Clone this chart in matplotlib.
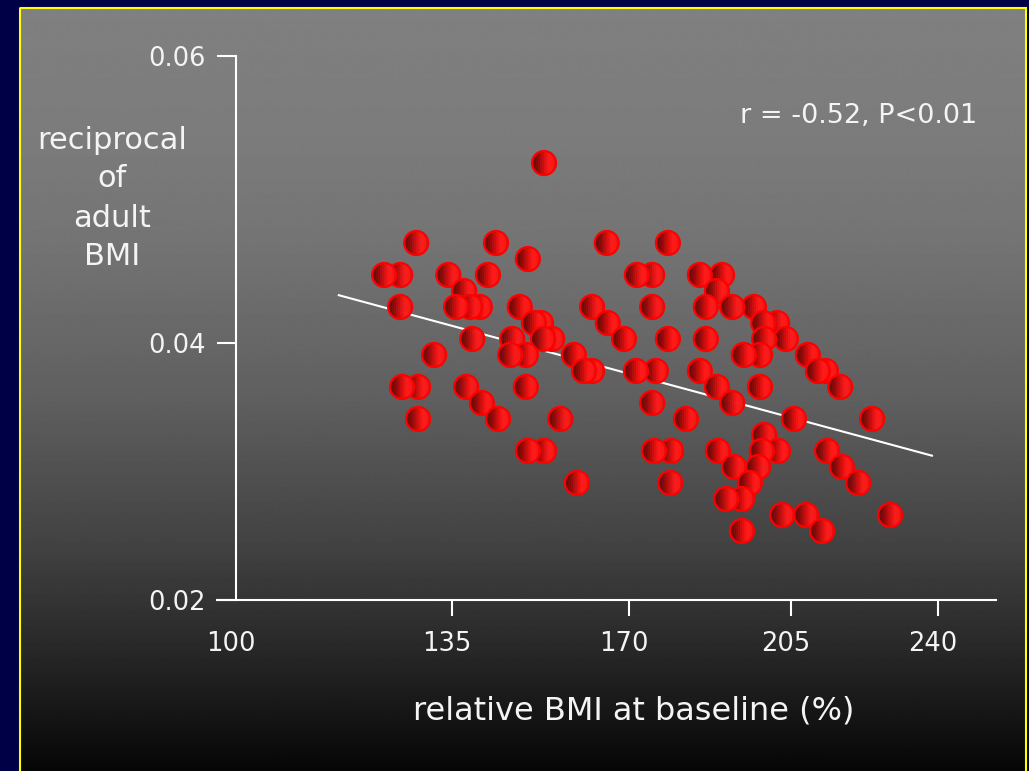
import numpy as np
import matplotlib
matplotlib.use("Agg")
import matplotlib.pyplot as plt
from matplotlib.path import Path
from matplotlib.patches import Rectangle
from matplotlib import transforms

# ---------------- data ----------------
x_ticks = [100, 135, 170, 205, 240]
x_ticklabels = ["100", "135", "170", "205", "240"]
y_ticks = [0.02, 0.04, 0.06]
y_ticklabels = ["0.02", "0.04", "0.06"]

relative_bmi = [
    153.2,
    129.2, 143.7, 165.6, 178.4,
    150.0,
    124.0, 126.6, 134.4, 142.1, 171.7, 175.0, 185.3, 190.1,
    137.4, 189.0,
    126.6, 135.8, 138.6, 140.5, 148.4, 162.7, 175.0, 186.6, 192.3, 197.0,
    151.2, 152.6, 165.8, 199.0, 202.0,
    139.0, 146.9, 153.0, 154.8, 169.0, 178.4, 186.6, 199.2, 203.9,
    132.1, 146.5, 149.6, 159.1, 194.8, 198.3, 209.0,
    161.1, 162.7, 171.5, 175.8, 185.3, 211.4, 213.3,
    126.9, 129.5, 137.8, 149.6, 189.0, 198.3, 216.7,
    140.9, 175.0, 192.3,
    129.5, 144.1, 156.4, 182.3, 205.7, 224.3,
    199.2,
    150.0, 153.2, 175.4, 179.1, 189.2, 198.7, 202.2, 213.6,
    192.7, 197.9, 217.1,
    159.7, 178.9, 196.1, 221.0,
    191.0, 194.4,
    203.1, 208.6, 228.6,
    194.4, 212.4,
]
recip_bmi = [
    0.05254,
    0.04697, 0.04697, 0.04697, 0.04697,
    0.04585,
    0.04474, 0.04474, 0.04474, 0.04474, 0.04474, 0.04474, 0.04474, 0.04474,
    0.04362, 0.04362,
    0.04251, 0.04251, 0.04251, 0.04251, 0.04251, 0.04251, 0.04251, 0.04251, 0.04251, 0.04251,
    0.04139, 0.04139, 0.04139, 0.04139, 0.04139,
    0.04028, 0.04028, 0.04028, 0.04028, 0.04028, 0.04028, 0.04028, 0.04028, 0.04028,
    0.03907, 0.03907, 0.03907, 0.03907, 0.03907, 0.03907, 0.03907,
    0.03782, 0.03782, 0.03782, 0.03782, 0.03782, 0.03782, 0.03782,
    0.03658, 0.03658, 0.03658, 0.03658, 0.03658, 0.03658, 0.03658,
    0.03533, 0.03533, 0.03533,
    0.03409, 0.03409, 0.03409, 0.03409, 0.03409, 0.03409,
    0.03284,
    0.03160, 0.03160, 0.03160, 0.03160, 0.03160, 0.03160, 0.03160, 0.03160,
    0.03035, 0.03035, 0.03035,
    0.02911, 0.02911, 0.02911, 0.02911,
    0.02786, 0.02786,
    0.02661, 0.02661, 0.02661,
    0.02537, 0.02537,
]

fit_x = [116.5, 238.8]
fit_y = [0.04335, 0.03121]

stat_text = "r = -0.52, P<0.01"
x_title = "relative BMI at baseline (%)"
y_title_lines = ["reciprocal", "of", "adult", "BMI"]

# ---------------- layout / style ----------------
W, H, DPI = 1029, 771, 100
plt.rcParams["font.family"] = ["DejaVu Sans"]
TXT = "#f4f4f4"

fig = plt.figure(figsize=(W / DPI, H / DPI), dpi=DPI, facecolor="#000046")

# background panel with vertical gradient and yellow frame
bg = fig.add_axes([0, 0, 1, 1], zorder=0)
bg.set_xlim(0, W)
bg.set_ylim(H, 0)
bg.axis("off")
rows = np.arange(7, H + 1)
lev = np.interp(rows, [7, 150, 250, 400, 550, 650, 771],
                [128, 123, 115, 95, 65, 40, 6]) / 255.0
grad = np.repeat(lev[:, None], 2, axis=1)
bg.imshow(grad, cmap="gray", vmin=0, vmax=1, extent=[19, 1026, H, 7],
          aspect="auto", interpolation="bilinear")
bg.add_patch(Rectangle((19.5, 7.5), 1006, 800, fill=False,
                       edgecolor="#ffff00", lw=1.5))

# axes whose (nonuniform, hand-drawn) scales map values to figure pixels
XV = [0, 100, 135, 170, 205, 240, 400]
XP = [-381, 236, 452, 629, 791, 938, 1610]
YV = [0.0, 0.02, 0.04, 0.06, 0.1]
YP = [857, 600, 343, 56, -518]


def fx(v):
    return np.interp(np.asarray(v, float), XV, XP)


def fx_inv(p):
    return np.interp(np.asarray(p, float), XP, XV)


def fy(v):
    return H - np.interp(np.asarray(v, float), YV, YP)


def fy_inv(q):
    return np.interp(H - np.asarray(q, float), YP[::-1], YV[::-1])


ax = fig.add_axes([0, 0, 1, 1], zorder=1)
ax.patch.set_visible(False)
ax.set_xscale("function", functions=(fx, fx_inv))
ax.set_yscale("function", functions=(fy, fy_inv))
ax.set_xlim(float(fx_inv(0)), float(fx_inv(W)))
ax.set_ylim(float(fy_inv(0)), float(fy_inv(H)))

for s in ("top", "right"):
    ax.spines[s].set_visible(False)
ax.spines["left"].set_position(("data", 100))
ax.spines["left"].set_bounds(0.02, 0.06)
ax.spines["bottom"].set_position(("data", 0.02))
ax.spines["bottom"].set_bounds(float(fx_inv(217)), float(fx_inv(996)))
for s in ("left", "bottom"):
    ax.spines[s].set_color("white")
    ax.spines[s].set_linewidth(1.5)

ax.set_xticks(x_ticks, x_ticklabels)
ax.set_yticks(y_ticks, y_ticklabels)
ax.minorticks_off()
ax.tick_params(axis="x", direction="out", length=11.5, width=1.5, color="white",
               labelcolor=TXT, labelsize=18.5, pad=11)
ax.tick_params(axis="y", direction="out", length=13.7, width=1.5, color="white",
               labelcolor=TXT, labelsize=18.5, pad=8)
ax.xaxis.get_major_ticks()[0].tick1line.set_visible(False)
shift = transforms.ScaledTranslation(-5 / DPI, 0, fig.dpi_scale_trans)
for t in ax.xaxis.get_major_ticks():
    t.label1.set_transform(t.label1.get_transform() + shift)

# regression line (behind points)
ax.plot(fit_x, fit_y, color="white", lw=1.5, zorder=2, solid_capstyle="butt")

# shaded ball markers: horizontal-gradient bands + bright rim, drawn per point
K = 12
edges = np.linspace(-1, 1, K + 1)


def band_path(a, b, m=30):
    xs = np.linspace(a, b, m)
    top = np.column_stack([xs, np.sqrt(np.clip(1 - xs ** 2, 0, None))])
    xr = xs[::-1]
    bot = np.column_stack([xr, -np.sqrt(np.clip(1 - xr ** 2, 0, None))])
    verts = np.vstack([top, bot, top[:1]]) * 0.5
    codes = [Path.MOVETO] + [Path.LINETO] * (len(verts) - 2) + [Path.CLOSEPOLY]
    return Path(verts, codes)


paths = []
fcols = []
for i in range(K):
    a, b = edges[i], min(edges[i + 1] + 0.05, 1.0)
    paths.append(band_path(a, b))
    t = 0.5 * ((edges[i] + edges[i + 1]) / 2 + 1)
    r = np.interp(t, [0, 0.25, 0.5, 0.7, 0.85, 1.0], [0.36, 0.54, 0.84, 1.0, 1.0, 0.86])
    g = np.interp(t, [0, 0.25, 0.5, 0.7, 0.85, 1.0], [0.03, 0.04, 0.06, 0.10, 0.10, 0.07])
    fcols.append((r, g, g, 1.0))
paths.append(Path.unit_circle().transformed(transforms.Affine2D().scale(0.5)))
fcols.append((0, 0, 0, 0))
ecols = [(0, 0, 0, 0)] * K + [(1.0, 0.0, 0.0, 1.0)]
lws = [0] * K + [1.6]

xs = np.asarray(relative_bmi)
ys = np.asarray(recip_bmi)
order = np.lexsort((-xs, -ys))  # upper rows first, right to left within row
xs, ys = xs[order], ys[order]
nL = K + 1
sc = ax.scatter(np.repeat(xs, nL), np.repeat(ys, nL), s=17.28 ** 2, marker="o", zorder=3)
sc.set_paths(paths)
sc.set_facecolor(fcols)
sc.set_edgecolor(ecols)
sc.set_linewidth(lws)

# texts
def fpos(px, py):
    return px / W, 1 - py / H


fig.text(*fpos(859, 122.5), stat_text, color=TXT, fontsize=19.5, ha="center", va="baseline")
fig.text(*fpos(634, 720), x_title, color=TXT, fontsize=23, ha="center", va="baseline")
for line, yb in zip(y_title_lines, [149, 187, 227, 265]):
    fig.text(*fpos(112, yb), line, color=TXT, fontsize=22, ha="center", va="baseline")

fig.savefig("out.png", dpi=DPI, facecolor=fig.get_facecolor())
